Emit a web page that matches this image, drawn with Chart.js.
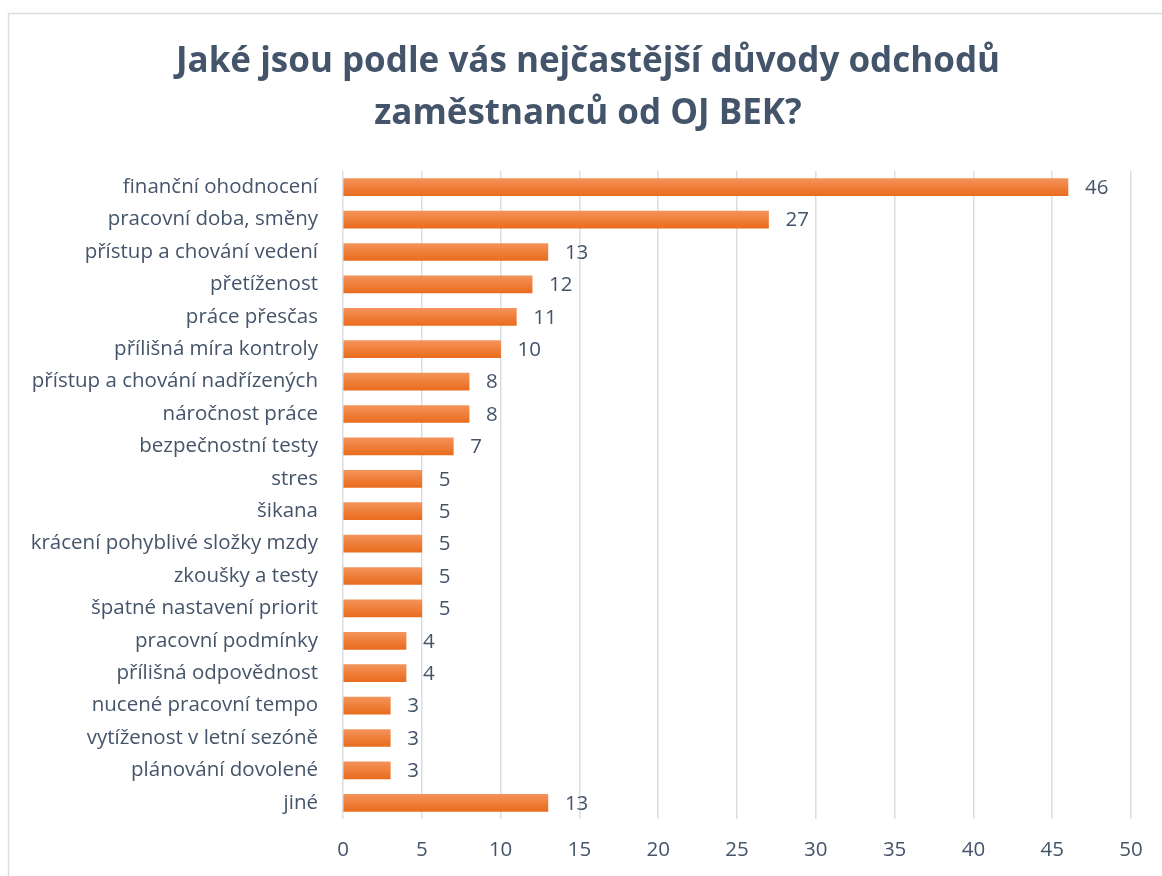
<!DOCTYPE html>
<html>
<head>
<meta charset="utf-8">
<script src="https://cdn.jsdelivr.net/npm/chart.js@4.4.0/dist/chart.umd.min.js"></script>
<style>
  html, body { margin: 0; padding: 0; background: #fff; }
  #wrap { width: 1162px; height: 876px; }
</style>
</head>
<body>
<div id="wrap"><canvas id="reasons"></canvas></div>
<script>
const titleLines = ['Jaké jsou podle vás nejčastější důvody odchodů', 'zaměstnanců od OJ BEK?'];

const reasons = [
  'finanční ohodnocení',
  'pracovní doba, směny',
  'přístup a chování vedení',
  'přetíženost',
  'práce přesčas',
  'přílišná míra kontroly',
  'přístup a chování nadřízených',
  'náročnost práce',
  'bezpečnostní testy',
  'stres',
  'šikana',
  'krácení pohyblivé složky mzdy',
  'zkoušky a testy',
  'špatné nastavení priorit',
  'pracovní podmínky',
  'přílišná odpovědnost',
  'nucené pracovní tempo',
  'vytíženost v letní sezóně',
  'plánování dovolené',
  'jiné'
];
const counts = [46, 27, 13, 12, 11, 10, 8, 8, 7, 5, 5, 5, 5, 5, 4, 4, 3, 3, 3, 13];

const xMax = 50;
const xStep = 5;

const textColor = '#44546a';
const gridColor = '#d9dee5';
const fontFamily = '"Open Sans", Lato, sans-serif';
const labelSize = 20.5;
const barHeight = 17;

// orange bar with a soft top-to-bottom shade
const barFill = (ctx) => {
  const chart = ctx.chart;
  if (ctx.type !== 'data' || !chart.scales || !chart.scales.y) return '#ed7d31';
  const yc = chart.scales.y.getPixelForValue(ctx.dataIndex);
  if (!isFinite(yc)) return '#ed7d31';
  const g = chart.ctx.createLinearGradient(0, yc - barHeight / 2, 0, yc + barHeight / 2);
  g.addColorStop(0, '#f3935a');
  g.addColorStop(0.5, '#ef7f3a');
  g.addColorStop(1, '#e96c1e');
  return g;
};

// outer frame plus the two-line heading (centred a bit right of the canvas middle)
const frame = {
  id: 'frame',
  beforeDraw(chart) {
    const c = chart.ctx;
    c.save();
    c.strokeStyle = '#d9dde3';
    c.lineWidth = 1.5;
    c.beginPath();
    c.moveTo(8.5, chart.height);
    c.lineTo(8.5, 13.5);
    c.lineTo(chart.width, 13.5);
    c.stroke();

    c.font = 'bold 35px ' + fontFamily;
    c.fillStyle = textColor;
    c.textAlign = 'center';
    c.textBaseline = 'middle';
    titleLines.forEach((line, i) => c.fillText(line, 588, 62 + i * 52));
    c.restore();
  }
};

const valueLabels = {
  id: 'valueLabels',
  afterDatasetsDraw(chart) {
    const c = chart.ctx;
    const meta = chart.getDatasetMeta(0);
    c.save();
    c.font = labelSize + 'px ' + fontFamily;
    c.fillStyle = textColor;
    c.textAlign = 'left';
    c.textBaseline = 'middle';
    meta.data.forEach((bar, i) => {
      c.fillText(String(counts[i]), bar.x + 17, bar.y + 1);
    });
    c.restore();
  }
};

new Chart(document.getElementById('reasons'), {
  type: 'bar',
  data: {
    labels: reasons,
    datasets: [{
      data: counts,
      backgroundColor: barFill,
      borderWidth: 0,
      barThickness: barHeight
    }]
  },
  options: {
    indexAxis: 'y',
    responsive: true,
    maintainAspectRatio: false,
    animation: false,
    layout: { padding: { left: 0, right: 31, top: 171, bottom: 0 } },
    plugins: {
      legend: { display: false },
      tooltip: { enabled: false },
      title: { display: false }
    },
    scales: {
      x: {
        min: 0,
        max: xMax,
        ticks: {
          stepSize: xStep,
          color: textColor,
          padding: 19,
          font: { family: fontFamily, size: labelSize }
        },
        grid: { color: gridColor, lineWidth: 1.5, drawTicks: false },
        border: { display: false },
        afterFit(scale) { scale.height = 57; }
      },
      y: {
        ticks: {
          color: textColor,
          padding: 17,
          autoSkip: false,
          font: { family: fontFamily, size: labelSize }
        },
        grid: { display: false },
        border: { display: false },
        afterFit(scale) { scale.width = 343; }
      }
    }
  },
  plugins: [frame, valueLabels]
});
</script>
</body>
</html>
